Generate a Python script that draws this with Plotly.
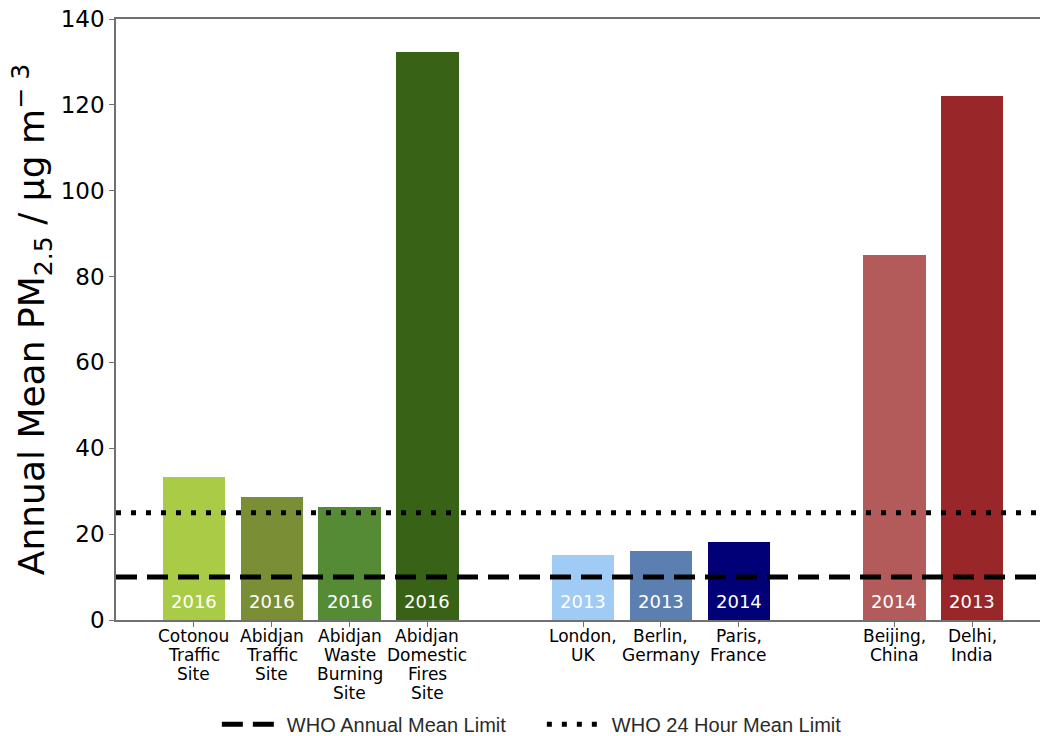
import plotly.graph_objects as go

# Site groups: West Africa, Europe, Asia
groups = [
    [["Cotonou", "Traffic", "Site"], ["Abidjan", "Traffic", "Site"],
     ["Abidjan", "Waste", "Burning", "Site"], ["Abidjan", "Domestic", "Fires", "Site"]],
    [["London,", "UK"], ["Berlin,", "Germany"], ["Paris,", "France"]],
    [["Beijing,", "China"], ["Delhi,", "India"]],
]
pm25 = [33.3, 28.6, 26.4, 132.2, 15.1, 16.1, 18.1, 85.0, 122.0]
years = ["2016", "2016", "2016", "2016", "2013", "2013", "2014", "2014", "2013"]
colors = ["#a9cb45", "#7a8f35", "#558b34", "#386316",
          "#a0cbf5", "#5b7fb0", "#010077",
          "#b35b5a", "#99272a"]
who_annual = 10
who_24h = 25

# One empty slot between groups
labels, xpos = [], []
slot = 0
for g in groups:
    for name in g:
        labels.append(name)
        xpos.append(slot)
        slot += 1
    slot += 1

x_min, x_max = -1.0, 10.87

fig = go.Figure()
fig.add_trace(go.Bar(
    x=xpos, y=pm25, width=0.8,
    marker=dict(color=colors, line=dict(width=0)),
    showlegend=False, hoverinfo="y",
))
fig.add_trace(go.Scatter(
    x=[x_min, x_max], y=[who_annual, who_annual], mode="lines",
    line=dict(color="black", width=5, dash="21px,10px"),
    name="WHO Annual Mean Limit",
))
fig.add_trace(go.Scatter(
    x=[x_min, x_max], y=[who_24h, who_24h], mode="lines",
    line=dict(color="black", width=5, dash="5px,10px"),
    name="WHO 24 Hour Mean Limit",
))

# Year of measurement at the foot of each bar
for xv, yr in zip(xpos, years):
    fig.add_annotation(
        x=xv, y=0, text=yr, showarrow=False, yanchor="middle", yshift=19,
        font=dict(family="DejaVu Sans", size=18, color="white"),
    )

# Site names under the axis, one line each for tight line spacing
for xv, lines in zip(xpos, labels):
    for i, line in enumerate(lines):
        fig.add_annotation(
            x=xv, y=0, text=line, showarrow=False, yanchor="middle",
            yshift=-16 - 19 * i,
            font=dict(family="DejaVu Sans", size=17, color="black"),
        )

fig.update_layout(
    width=1040, height=736,
    margin=dict(l=116, r=0, t=19, b=116, autoexpand=False),
    paper_bgcolor="white", plot_bgcolor="white",
    font=dict(family="DejaVu Sans", color="black"),
    bargap=0,
    legend=dict(
        orientation="h", xref="container", yref="container",
        x=0.521, xanchor="center", y=0.016, yanchor="middle",
        font=dict(family="Liberation Sans", size=20, color="#2a2a2a"),
        itemwidth=60, entrywidth=250, bgcolor="rgba(0,0,0,0)",
    ),
)
fig.update_xaxes(
    range=[x_min, x_max], tickvals=xpos, showticklabels=False,
    showline=True, linecolor="#707070", linewidth=1.5, mirror=True,
    ticks="outside", ticklen=5, tickcolor="#707070", tickwidth=1.2,
    showgrid=False, zeroline=False, fixedrange=True, automargin=False,
)
fig.update_yaxes(
    range=[0, 140], tickvals=[0, 20, 40, 60, 80, 100, 120, 140],
    showline=True, linecolor="#707070", linewidth=1.5,
    ticks="outside", ticklen=5, tickcolor="#707070", tickwidth=1.2,
    tickfont=dict(family="DejaVu Sans", size=23, color="black"),
    showgrid=False, zeroline=False, fixedrange=True, automargin=False,
    title=dict(
        text="Annual Mean PM<sub>2.5</sub> / μg m<sup>− 3</sup>",
        font=dict(family="DejaVu Sans", size=36, color="black"),
        standoff=5,
    ),
)

fig.write_html("out.html")
